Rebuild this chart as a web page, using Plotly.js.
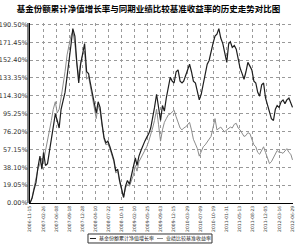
<!DOCTYPE html>
<html><head><meta charset="utf-8">
<script src="https://cdn.plot.ly/plotly-3.0.1.min.js"></script>
<style>html,body{margin:0;padding:0;background:#fff}#c{width:300px;height:245px}</style>
</head><body><div id="c"></div>
<script>
const chartTitle = '基金份额累计净值增长率与同期业绩比较基准收益率的历史走势对比图';
const seriesNames = ['基金份额累计净值增长率', '业绩比较基准收益率'];
const dates = ['2006-11-15','2006-12-01','2006-12-16','2007-01-01','2007-01-16','2007-02-01','2007-02-16','2007-03-01','2007-03-16','2007-04-01','2007-04-16','2007-05-01','2007-05-16','2007-06-01','2007-06-16','2007-07-01','2007-07-16','2007-08-01','2007-08-16','2007-09-01','2007-09-16','2007-10-01','2007-10-16','2007-11-01','2007-11-16','2007-12-01','2007-12-16','2008-01-01','2008-01-16','2008-02-01','2008-02-16','2008-03-01','2008-03-16','2008-04-01','2008-04-16','2008-05-01','2008-05-16','2008-06-01','2008-06-16','2008-07-01','2008-07-16','2008-08-01','2008-08-16','2008-09-01','2008-09-16','2008-10-01','2008-10-16','2008-11-01','2008-11-16','2008-12-01','2008-12-16','2009-01-01','2009-01-16','2009-02-01','2009-02-16','2009-03-01','2009-03-16','2009-04-01','2009-04-16','2009-05-01','2009-05-16','2009-06-01','2009-06-16','2009-07-01','2009-07-16','2009-08-01','2009-08-16','2009-09-01','2009-09-16','2009-10-01','2009-10-16','2009-11-01','2009-11-16','2009-12-01','2009-12-16','2010-01-01','2010-01-16','2010-02-01','2010-02-16','2010-03-01','2010-03-16','2010-04-01','2010-04-16','2010-05-01','2010-05-16','2010-06-01','2010-06-16','2010-07-01','2010-07-16','2010-08-01','2010-08-16','2010-09-01','2010-09-16','2010-10-01','2010-10-16','2010-11-01','2010-11-16','2010-12-01','2010-12-16','2011-01-01','2011-01-16','2011-02-01','2011-02-16','2011-03-01','2011-03-16','2011-04-01','2011-04-16','2011-05-01','2011-05-16','2011-06-01','2011-06-16','2011-07-01','2011-07-16','2011-08-01','2011-08-16','2011-09-01','2011-09-16','2011-10-01','2011-10-16','2011-11-01','2011-11-16','2011-12-01','2011-12-16','2012-01-01','2012-01-16','2012-02-01','2012-02-16','2012-03-01','2012-03-16','2012-04-01','2012-04-16','2012-05-01','2012-05-16','2012-06-01','2012-06-16','2012-06-29'];
const fundGrowth = [0,5,14,22,38,50,36,54,40,42,55,68,78,95,88,80,100,110,118,135,155,168,186,178,150,128,148,160,170,140,138,128,118,104,96,108,102,84,70,64,66,60,52,46,34,36,24,14,6,18,24,20,30,38,48,40,50,56,62,66,70,74,80,90,102,116,100,88,104,98,112,122,134,130,128,140,142,130,128,130,136,142,148,140,130,128,120,110,116,128,138,148,152,162,170,178,180,186,176,170,160,150,170,172,166,168,164,152,144,138,132,140,150,146,142,130,128,118,114,126,128,112,104,98,90,88,100,104,102,108,110,106,110,112,106,102];
const benchmarkReturn = [0,6,16,26,36,42,48,45,55,65,78,88,100,108,96,100,112,125,140,158,170,178,183,170,148,135,150,158,162,132,135,124,112,100,90,104,98,82,68,62,63,58,50,44,32,34,22,12,6,16,20,18,24,30,40,34,44,48,52,56,60,66,72,80,88,100,84,66,78,86,90,94,95,97,99,92,86,80,78,80,81,84,86,78,68,63,58,50,54,60,62,65,67,71,80,90,78,80,81,78,76,78,80,81,80,84,85,80,78,74,71,72,75,74,68,62,60,54,52,56,60,54,48,42,44,48,52,56,54,54,53,56,58,54,52,46];
const xTickDates = ['2006-11-15','2007-02-26','2007-06-08','2007-09-18','2007-12-28','2008-04-10','2008-07-22','2008-10-31','2009-02-10','2009-05-25','2009-09-03','2009-12-15','2010-03-29','2010-07-09','2010-10-19','2011-01-31','2011-05-13','2011-08-23','2011-12-05','2012-03-16','2012-06-29'];
const yTickValues = [0,19.05,38.10,57.15,76.20,95.25,114.30,133.35,152.40,171.45,190.50];
const yTickLabels = yTickValues.map(v => v.toFixed(2) + '%');

const CJK = 'Noto Sans CJK SC, sans-serif';
const traces = [
  {x: dates, y: benchmarkReturn, type: 'scatter', mode: 'lines', name: seriesNames[1], line: {color: '#8c8c8c', width: 1}},
  {x: dates, y: fundGrowth, type: 'scatter', mode: 'lines', name: seriesNames[0], line: {color: '#1e1e1e', width: 1.2}}
];
const layout = {
  width: 300, height: 245,
  margin: {l: 30, r: 7, t: 23, b: 42, pad: 0},
  paper_bgcolor: '#fff', plot_bgcolor: '#fff',
  showlegend: false,
  title: {text: chartTitle, font: {family: CJK, size: 8.5, color: '#000', weight: 'bold'}, x: 0.495, xanchor: 'center', xref: 'container', y: 0.963, yanchor: 'middle', yref: 'container'},
  xaxis: {type: 'date', range: ['2006-11-15', '2012-07-03'], tickmode: 'array', tickvals: xTickDates, ticktext: xTickDates,
    tickangle: -90, tickfont: {family: 'DejaVu Sans, sans-serif', size: 4.5, color: '#444'},
    showgrid: true, gridcolor: '#9a9a9a', griddash: 'dot', gridwidth: 1,
    showline: true, linecolor: '#000', linewidth: 1, ticks: '', zeroline: false, fixedrange: true},
  yaxis: {range: [0, 192], tickmode: 'array', tickvals: yTickValues, ticktext: yTickLabels,
    tickfont: {family: 'DejaVu Sans, sans-serif', size: 6.5, color: '#333'},
    showgrid: true, gridcolor: '#9a9a9a', griddash: 'dot', gridwidth: 1,
    showline: true, linecolor: '#000', linewidth: 1, ticks: '', zeroline: false, fixedrange: true},
  shapes: [
    {type: 'line', xref: 'paper', yref: 'paper', x0: -0.0076, x1: -0.0076, y0: 0, y1: 1, line: {color: '#000', width: 1}},
    {type: 'rect', xref: 'paper', yref: 'paper', x0: 0.2205, x1: 0.692, y0: -0.2222, y1: -0.1722, line: {color: '#333', width: 1}, fillcolor: 'rgba(0,0,0,0)'},
    {type: 'line', xref: 'paper', yref: 'paper', x0: 0.228, x1: 0.251, y0: -0.1972, y1: -0.1972, line: {color: '#1e1e1e', width: 1}},
    {type: 'line', xref: 'paper', yref: 'paper', x0: 0.4829, x1: 0.5057, y0: -0.1972, y1: -0.1972, line: {color: '#8c8c8c', width: 1}}
  ],
  annotations: [
    {xref: 'paper', yref: 'paper', x: 0.2548, y: -0.1972, xanchor: 'left', yanchor: 'middle', text: seriesNames[0], showarrow: false, font: {family: CJK, size: 5, color: '#222'}},
    {xref: 'paper', yref: 'paper', x: 0.5095, y: -0.1972, xanchor: 'left', yanchor: 'middle', text: seriesNames[1], showarrow: false, font: {family: CJK, size: 5, color: '#222'}}
  ]
};
Plotly.newPlot('c', traces, layout, {staticPlot: true, displayModeBar: false});
</script>
</body></html>
